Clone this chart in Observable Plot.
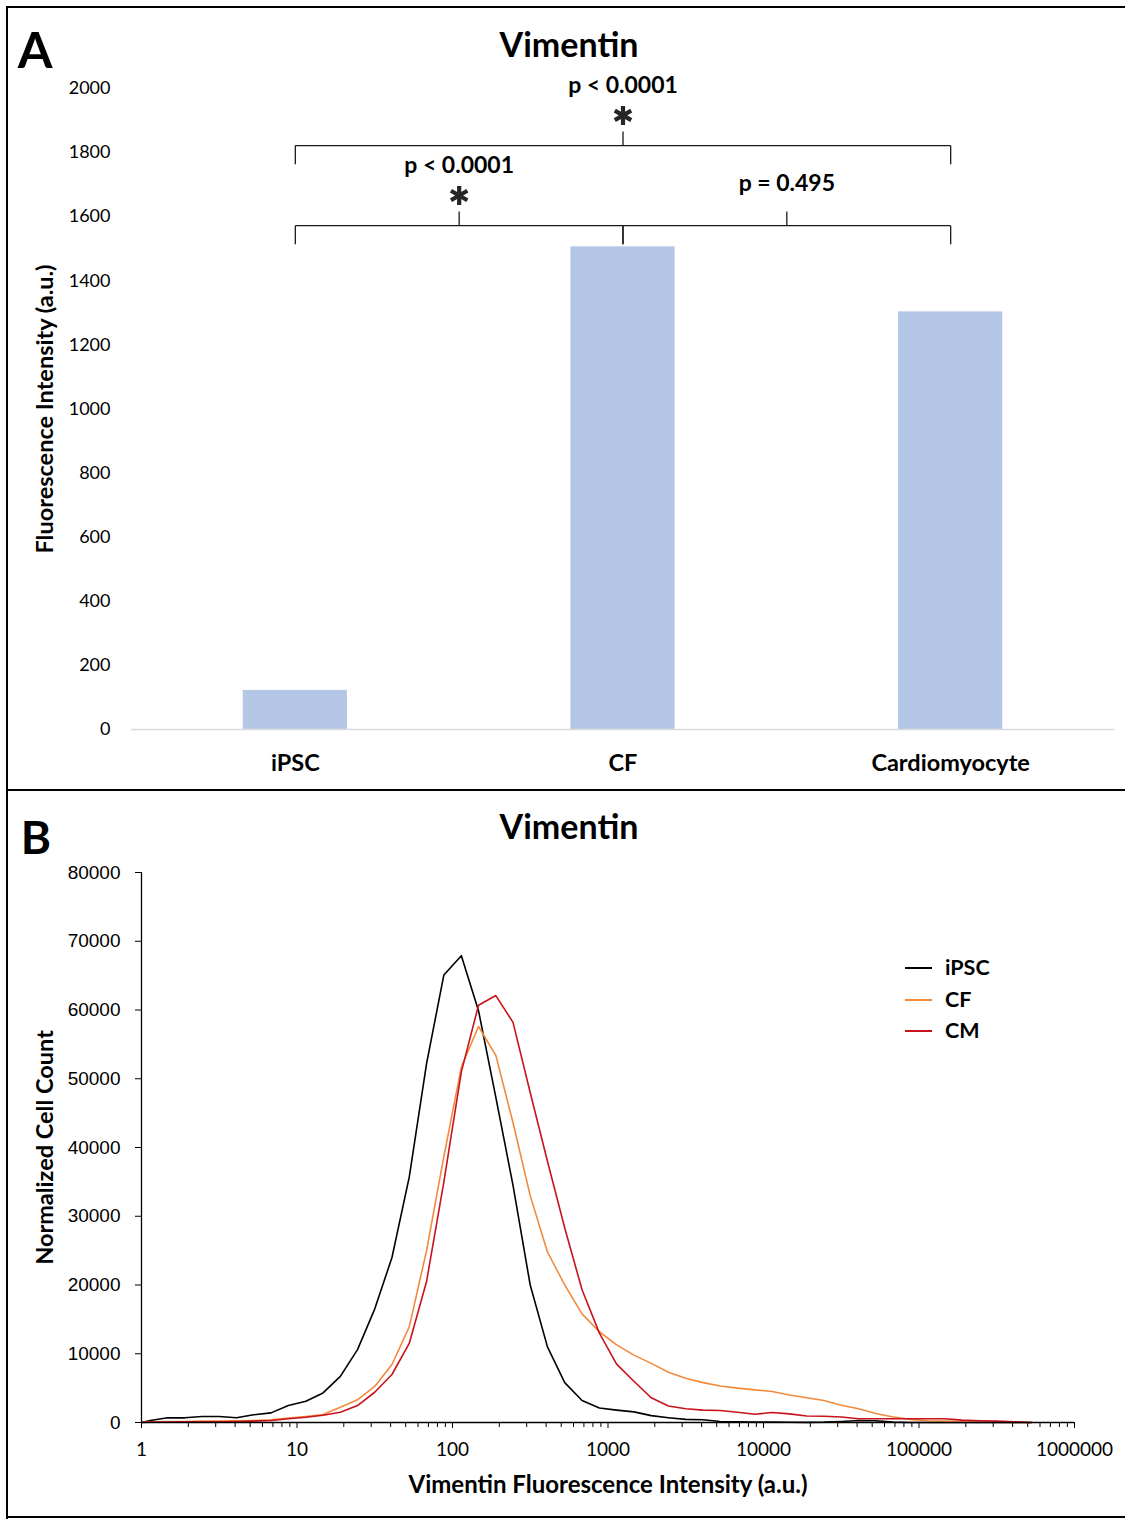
<!DOCTYPE html>
<html><head><meta charset="utf-8">
<script src="https://cdn.jsdelivr.net/npm/d3@7"></script>
<script src="https://cdn.jsdelivr.net/npm/@observablehq/plot@0.6"></script>
<style>
body{margin:0;background:#fff;}
#page{position:relative;width:1125px;height:1519px;overflow:hidden;font-family:Lato,"Open Sans",sans-serif;color:#000;}
.abs{position:absolute;}
.c{position:absolute;transform:translate(-50%,-50%);line-height:1;white-space:nowrap;}
.l{position:absolute;transform:translate(0,-50%);line-height:1;white-space:nowrap;}
.line{position:absolute;background:#000;}
svg{position:absolute;left:0;}
</style></head><body><div id="page"></div>
<script>
// ---------- Panel A data ----------
const categories = ["iPSC", "CF", "Cardiomyocyte"];
const meanIntensity = [122, 1506, 1303];
const intensityTicks = [0, 200, 400, 600, 800, 1000, 1200, 1400, 1600, 1800, 2000];
const comparisons = [
  {from: "iPSC", to: "CF", label: "p < 0.0001", significant: true, level: 1572},
  {from: "CF", to: "Cardiomyocyte", label: "p = 0.495", significant: false, level: 1572},
  {from: "iPSC", to: "Cardiomyocyte", label: "p < 0.0001", significant: true, level: 1822}
];

// ---------- Panel B data ----------
const fluorescence = [1, 1.14, 1.47, 1.90, 2.45, 3.16, 4.08, 5.27, 6.81, 8.80, 11.4, 14.7, 19.0, 24.5, 31.6, 40.8, 52.7, 68.1, 88.0, 114, 147, 190, 245, 316, 408, 527, 681, 880, 1136, 1468, 1896, 2448, 3162, 4084, 5275, 6813, 8799, 11365, 14678, 18957, 24484, 31623, 40842, 52749, 68129, 87992, 113646, 146780, 189574, 244844, 316228, 408423, 527500];
const countIPSC = [0, 300, 680, 680, 870, 870, 680, 1120, 1400, 2470, 3100, 4300, 6700, 10600, 16500, 24000, 35700, 52200, 65100, 67900, 59900, 47300, 34500, 20000, 11000, 5800, 3200, 2100, 1800, 1550, 1000, 700, 450, 400, 150, 100, 80, 60, 40, 20, 50, 150, 300, 250, 60, 0, 0, 0, 0, 0, 0, 0, 0];
const countCF = [0, 100, 150, 150, 200, 200, 250, 300, 390, 630, 870, 1160, 2230, 3300, 5240, 8440, 13900, 25000, 38700, 51700, 57600, 53400, 43600, 33000, 24800, 20000, 15800, 13200, 11300, 9800, 8600, 7300, 6450, 5800, 5300, 5000, 4750, 4500, 4000, 3600, 3200, 2500, 2000, 1300, 800, 450, 250, 200, 150, 100, 50, 0, 0];
const countCM = [0, 50, 80, 100, 120, 120, 150, 200, 300, 540, 770, 1060, 1500, 2470, 4400, 6980, 11500, 20500, 35000, 51000, 60700, 62100, 58200, 48000, 38000, 28300, 19300, 13000, 8500, 6000, 3600, 2400, 2000, 1800, 1750, 1500, 1200, 1450, 1250, 950, 900, 800, 550, 550, 550, 550, 550, 550, 350, 250, 200, 100, 0];
const seriesNames = ["iPSC", "CF", "CM"];
const seriesColors = ["#000000", "#f28a3c", "#c8121c"];
const countTicks = [0, 10000, 20000, 30000, 40000, 50000, 60000, 70000, 80000];
const decadeTicks = [1, 10, 100, 1000, 10000, 100000, 1000000];

const page = document.getElementById("page");
function add(html){ page.insertAdjacentHTML("beforeend", html); }

// ---------- Panel A plot ----------
const barRows = categories.map((c, i) => ({i, c, value: meanIntensity[i]}));
const TICK = 44, LEG = 58;
const segs = [], stars = [], pTexts = [];
for (const cmp of comparisons) {
  const a = categories.indexOf(cmp.from), b = categories.indexOf(cmp.to), m = (a + b) / 2;
  segs.push({x1: a, y1: cmp.level, x2: b, y2: cmp.level});
  segs.push({x1: a, y1: cmp.level, x2: a, y2: cmp.level - LEG});
  segs.push({x1: b, y1: cmp.level, x2: b, y2: cmp.level - LEG});
  segs.push({x1: m, y1: cmp.level, x2: m, y2: cmp.level + TICK});
  if (cmp.significant) stars.push({x: m, y: cmp.level + TICK + 50});
  pTexts.push({x: m, y: cmp.level + TICK + (cmp.significant ? 143 : 87), text: cmp.label});
}

const plotA = Plot.plot({
  width: 1125, height: 730,
  marginLeft: 131, marginRight: 11, marginTop: 28, marginBottom: 61,
  style: {fontFamily: "Lato, sans-serif", color: "#000", background: "transparent", overflow: "visible"},
  x: {domain: [-0.5, 2.5], axis: null},
  y: {domain: [0, 2000], axis: null},
  marks: [
    Plot.rect(barRows, {x1: d => d.i - 0.159, x2: d => d.i + 0.159, y1: () => 0, y2: "value", fill: "#b4c7e7"}),
    Plot.ruleY([0], {x1: -0.5, x2: 2.5, stroke: "#d9d9d9", strokeWidth: 1.5}),
    Plot.axisY({ticks: intensityTicks, tickSize: 0, tickPadding: 21, fontSize: 18, label: null, tickFormat: d => String(d)}),
    Plot.axisX({ticks: [0, 1, 2], tickFormat: i => categories[i], tickSize: 0, tickPadding: 25, fontSize: 23.5, fontWeight: "bold", label: null}),
    Plot.link(segs, {x1: "x1", y1: "y1", x2: "x2", y2: "y2", stroke: "#1a1a1a", strokeWidth: 1.3}),
    Plot.dot(stars, {x: "x", y: "y", symbol: "asterisk", r: 9, stroke: "#262626", strokeWidth: 4.2}),
    Plot.text(pTexts, {x: "x", y: "y", text: "text", fontWeight: "bold", fontSize: 23, lineAnchor: "middle"}),
    Plot.text(["Fluorescence Intensity (a.u.)"], {frameAnchor: "left", textAnchor: "middle", dx: -86, rotate: -90, fontWeight: "bold", fontSize: 23.5, lineAnchor: "middle"})
  ]
});
plotA.style.top = "60px";
page.appendChild(plotA);

// ---------- Panel B plot ----------
const rows = [];
const seriesCounts = [countIPSC, countCF, countCM];
seriesNames.forEach((s, j) => fluorescence.forEach((x, k) => rows.push({series: s, x, y: seriesCounts[j][k]})));
const minorTicks = decadeTicks.slice(0, -1).flatMap(d => [2, 3, 4, 5, 6, 7, 8, 9].map(k => k * d));

const plotB = Plot.plot({
  width: 1125, height: 727,
  marginLeft: 141, marginRight: 51, marginTop: 82, marginBottom: 95,
  style: {fontFamily: "Lato, sans-serif", color: "#000", background: "transparent", overflow: "visible"},
  x: {type: "log", domain: [1, 1000000], axis: null},
  y: {domain: [0, 80000], axis: null},
  color: {domain: seriesNames, range: seriesColors},
  marks: [
    Plot.line(rows, {x: "x", y: "y", z: "series", stroke: "series", strokeWidth: 1.6}),
    Plot.ruleX([1], {y1: 0, y2: 80000, stroke: "#000", strokeWidth: 1.3}),
    Plot.ruleY([0], {stroke: "#000", strokeWidth: 1.3}),
    Plot.axisY({ticks: countTicks, tickSize: 6, tickPadding: 15, fontSize: 19, fontFamily: "Liberation Sans", label: null, tickFormat: d => String(d)}),
    Plot.axisX({ticks: minorTicks, tickSize: 5, tickFormat: () => "", label: null}),
    Plot.axisX({ticks: decadeTicks, tickSize: 6, tickPadding: 14, fontSize: 19, label: null, tickFormat: d => String(d)}),
    Plot.text(["Vimentin Fluorescence Intensity (a.u.)"], {frameAnchor: "bottom", dy: 63, fontWeight: "bold", fontSize: 24, lineAnchor: "middle"}),
    Plot.text(["Normalized Cell Count"], {frameAnchor: "left", textAnchor: "middle", dx: -96, rotate: -90, fontWeight: "bold", fontSize: 23.5, lineAnchor: "middle"})
  ]
});
plotB.style.top = "790px";
page.appendChild(plotB);

// ---------- Titles, panel letters, legend, borders ----------
add(`<div class="c" style="left:35px;top:49px;font-size:50px;font-weight:700">A</div>`);
add(`<div class="c" style="left:569px;top:44px;font-size:34px;font-weight:700">Vimentin</div>`);
add(`<div class="c" style="left:36px;top:837px;font-size:46px;font-weight:700">B</div>`);
add(`<div class="c" style="left:569px;top:826px;font-size:34px;font-weight:700">Vimentin</div>`);
seriesNames.forEach((s, j) => {
  const y = 968 + j * 31.5;
  add(`<div class="line" style="left:905px;top:${y - 1}px;width:27px;height:2px;background:${seriesColors[j]}"></div>`);
  add(`<div class="l" style="left:945px;top:${y}px;font-size:21.5px;font-weight:700">${s}</div>`);
});
add(`<div class="line" style="left:6px;top:6px;width:1119px;height:2px"></div>`);
add(`<div class="line" style="left:6px;top:6px;width:2px;height:1513px"></div>`);
add(`<div class="line" style="left:6px;top:789px;width:1119px;height:2px"></div>`);
add(`<div class="line" style="left:6px;top:1516px;width:1119px;height:2px"></div>`);
</script>
</body></html>
